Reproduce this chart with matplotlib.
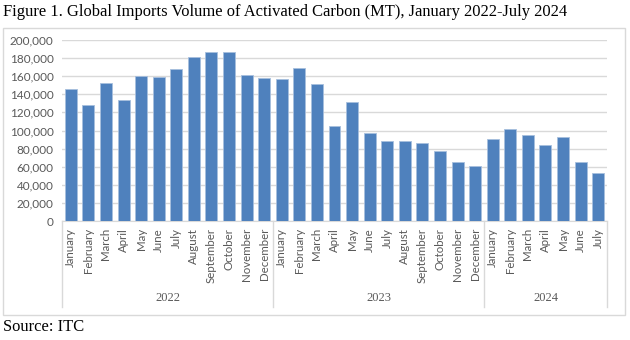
import matplotlib.pyplot as plt
from matplotlib.patches import Rectangle
from matplotlib.ticker import FuncFormatter
import matplotlib.transforms as mtransforms

months = ['January', 'February', 'March', 'April', 'May', 'June', 'July',
          'August', 'September', 'October', 'November', 'December']
years = ['2022', '2023', '2024']
months_per_year = [12, 12, 7]

values = [146000, 128400, 152700, 133600, 160200, 159000, 167900,
          181500, 186700, 186700, 160800, 158300,
          156800, 169000, 151600, 105100, 131300, 97000, 88900,
          88200, 86000, 77500, 65600, 60900,
          91100, 101800, 95500, 83800, 93300, 65600, 53100]

labels = []
for n in months_per_year:
    labels += months[:n]

W, H = 630, 340
fig = plt.figure(figsize=(W / 100, H / 100), dpi=100)

# light border around the chart area
fig.patches.append(Rectangle((3 / W, 1 - 315 / H), 622 / W, 287 / H,
                             transform=fig.transFigure, fill=False,
                             edgecolor='#d9d9d9', linewidth=1))

ax = fig.add_axes([62 / W, 1 - 221 / H, 545 / W, 181 / H])
x = list(range(len(values)))
ax.bar(x, values, width=0.68, color='#4f81bd', edgecolor='#a7bfde', linewidth=0.6, zorder=3)

ax.set_xlim(-0.5, len(values) - 0.5)
ax.set_ylim(0, 200000)
ax.set_yticks(range(0, 200001, 20000))
ax.yaxis.set_major_formatter(FuncFormatter(lambda v, p: f'{int(v):,}'))
ax.grid(axis='y', color='#d9d9d9', linewidth=1, zorder=0)
for s in ['left', 'right', 'top']:
    ax.spines[s].set_visible(False)
ax.spines['bottom'].set_color('#d9d9d9')
ax.tick_params(axis='y', length=0, labelsize=8.5, labelcolor='#595959', pad=6)
ax.set_xticks(x)
ax.set_xticklabels(labels, rotation=90, fontsize=8.3, color='#595959', family='Lato')
ax.tick_params(axis='x', length=0, pad=5)
for t in ax.get_yticklabels():
    t.set_family('Lato')

# multi-level category axis: year separators and year labels
trans = mtransforms.blended_transform_factory(ax.transData, ax.transAxes)
ybot = -(307 - 221) / 181
start = 0
edges = [-0.5]
for yr, n in zip(years, months_per_year):
    end = start + n
    edges.append(end - 0.5)
    ax.text((start + end - 1) / 2, -(298 - 221) / 181, yr, transform=trans,
            ha='center', va='center', fontsize=9, color='#595959',
            family='Liberation Serif')
    start = end
for e in edges:
    ax.plot([e, e], [0, ybot], transform=trans, color='#d9d9d9',
            linewidth=1, clip_on=False)

fig.text(3 / W, 1 - 12 / H, 'Figure 1. Global Imports Volume of Activated Carbon (MT), January 2022-July 2024',
         fontsize=11.9, family='Liberation Serif', ha='left', va='center')
fig.text(3 / W, 1 - 327 / H, 'Source: ITC', fontsize=11.9, family='Liberation Serif',
         ha='left', va='center')

fig.savefig('out.png', dpi=100)
